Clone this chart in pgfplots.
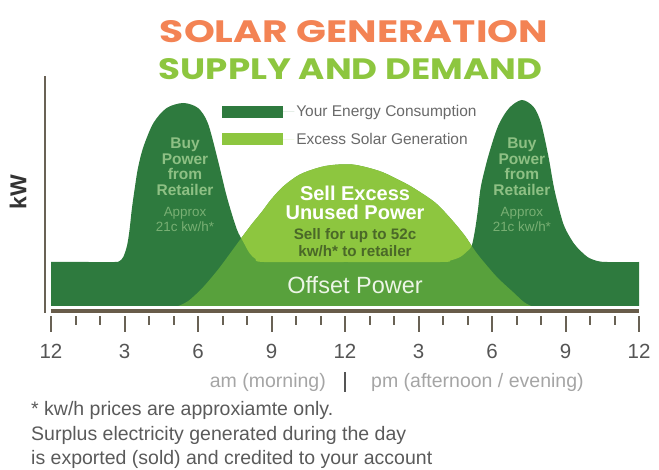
\documentclass[border=0pt]{standalone}
\usepackage{fontspec}
\setmainfont{Liberation Sans}
\newfontfamily\titlefont{Poppins}
\usepackage{graphicx}
\usepackage{pgfplots}
\usepgfplotslibrary{fillbetween}
\pgfplotsset{compat=1.18}

\definecolor{dkgreen}{RGB}{46,122,62}
\definecolor{ltgreen}{RGB}{141,198,63}
\definecolor{mdgreen}{RGB}{88,161,60}
\definecolor{brownbar}{RGB}{104,92,74}
\definecolor{ticktone}{RGB}{105,98,85}
\definecolor{titleorange}{RGB}{243,131,84}
\definecolor{titlegreen}{RGB}{141,198,63}
\definecolor{buytext}{RGB}{142,192,132}
\definecolor{approxtext}{RGB}{120,175,115}
\definecolor{selltext}{RGB}{74,104,40}
\definecolor{offsettext}{RGB}{236,245,230}
\definecolor{legendgray}{RGB}{105,105,105}
\definecolor{tickgray}{RGB}{85,85,85}
\definecolor{ampmgray}{RGB}{165,165,165}
\definecolor{notegray}{RGB}{90,90,90}

\begin{document}
\begin{tikzpicture}[x=1pt,y=1pt]
\path (0,0) rectangle (659,469);

% title
\node[inner sep=0pt, text=titleorange] at (354,437)
  {\resizebox{388pt}{22pt}{\titlefont\bfseries SOLAR GENERATION}};
\node[inner sep=0pt, text=titlegreen] at (350.5,399.5)
  {\resizebox{383pt}{21pt}{\titlefont\bfseries SUPPLY AND DEMAND}};

% kW label
\node[rotate=90, inner sep=0pt, text=black!80, font=\fontsize{23}{23}\selectfont\bfseries] at (18,277) {kW};

\begin{axis}[
  at={(51pt,153pt)}, anchor=south west,
  scale only axis, width=588pt, height=240pt,
  xmin=0, xmax=24, ymin=-10, ymax=230,
  clip=false,
  axis y line=none, axis x line=bottom,
  x axis line style={draw=none},
  xtick={0,3,...,24},
  xticklabels={12,3,6,9,12,3,6,9,12},
  minor x tick num=2,
  tick align=outside,
  major tick length=16pt, minor tick length=9pt,
  tick style={ticktone, line width=2pt},
  xticklabel style={font=\fontsize{20.5}{20.5}\selectfont, text=tickgray, yshift=-9pt},
  legend style={at={(axis cs:6.86,205)}, anchor=north west, draw=none, fill=none,
    font=\fontsize{15.5}{17}\selectfont, text=legendgray, row sep=11pt},
  legend cell align=left,
  legend image code/.code={\fill[#1] (0pt,-6pt) rectangle (61pt,6pt); \path (0pt,0pt) -- (72pt,0pt);},
]
% Your energy consumption (kW)
\addplot[draw=none, fill=dkgreen, smooth, tension=0.5, forget plot] coordinates {
(0,44) (1.5,44) (2.6,44) (2.8,45) (2.95,49) (3.1,60) (3.2,75) (3.3,97) (3.42,118) (3.55,138) (3.77,159) (4.18,183) (4.72,198) (5.4,203) (6.0,198) (6.4,183) (6.78,149) (7.18,109) (7.58,77) (7.85,64) (8.1,53) (8.35,47) (8.7,44) (12,44) (15.9,44) (16.3,45.5) (16.7,49) (17.0,55) (17.17,60) (17.3,75) (17.42,95) (17.55,120) (17.85,150) (18.25,180) (18.7,198) (19.22,206) (19.7,199) (20.0,183) (20.3,150) (20.55,116) (20.9,83) (21.2,68) (21.46,59) (21.9,49) (22.3,45) (22.7,44) (24,44)
} \closedcycle;
\addplot[draw=none, smooth, tension=0.5, name path=cons, forget plot] coordinates {
(0,44) (1.5,44) (2.6,44) (2.8,45) (2.95,49) (3.1,60) (3.2,75) (3.3,97) (3.42,118) (3.55,138) (3.77,159) (4.18,183) (4.72,198) (5.4,203) (6.0,198) (6.4,183) (6.78,149) (7.18,109) (7.58,77) (7.85,64) (8.1,53) (8.35,47) (8.7,44) (12,44) (15.9,44) (16.3,45.5) (16.7,49) (17.0,55) (17.17,60) (17.3,75) (17.42,95) (17.55,120) (17.85,150) (18.25,180) (18.7,198) (19.22,206) (19.7,199) (20.0,183) (20.3,150) (20.55,116) (20.9,83) (21.2,68) (21.46,59) (21.9,49) (22.3,45) (22.7,44) (24,44)
};
% Solar generation
\addplot[draw=none, fill=mdgreen, smooth, tension=0.5, forget plot] coordinates {
(5.2,0) (5.6,5) (6.1,16) (6.5,27) (6.9,39) (7.35,54) (7.8,69) (8.2,82) (8.6,94) (9.0,107) (9.5,120) (10.2,132) (11.2,140) (12.3,141.5) (13.4,135) (14.2,126) (14.8,118) (15.7,103) (16.4,85) (16.9,70) (17.2,59) (17.5,49) (18.2,29) (18.9,13) (19.3,4) (19.6,0)
} \closedcycle;
\addplot[draw=none, smooth, tension=0.5, name path=sol, forget plot] coordinates {
(5.2,0) (5.6,5) (6.1,16) (6.5,27) (6.9,39) (7.35,54) (7.8,69) (8.2,82) (8.6,94) (9.0,107) (9.5,120) (10.2,132) (11.2,140) (12.3,141.5) (13.4,135) (14.2,126) (14.8,118) (15.7,103) (16.4,85) (16.9,70) (17.2,59) (17.5,49) (18.2,29) (18.9,13) (19.3,4) (19.6,0)
};
% excess solar (solar above consumption)
\addplot[draw=none, fill=none, forget plot] fill between[of=cons and sol,
  soft clip={domain=5.25:19.55}, split, on layer=main,
  every segment no 1/.style={fill=ltgreen}];

\addlegendimage{fill=dkgreen, draw=none}
\addlegendentry{Your Energy Consumption}
\addlegendimage{fill=ltgreen, draw=none}
\addlegendentry{Excess Solar Generation}

% ground bar and vertical axis
\fill[brownbar] (axis cs:0,-3) rectangle (axis cs:24,-7.5);
\draw[ticktone, line width=2pt] (axis cs:-0.245,-7) -- (axis cs:-0.245,230);

% annotations
\node[align=center, text=buytext, font=\fontsize{15.5}{15.5}\selectfont\bfseries] at (axis cs:5.47,139.5) {Buy\\Power\\from\\Retailer};
\node[align=center, text=approxtext, font=\fontsize{13.4}{15}\selectfont] at (axis cs:5.47,86.5) {Approx\\21c kw/h*};
\node[align=center, text=buytext, font=\fontsize{15.5}{15.5}\selectfont\bfseries] at (axis cs:19.22,139.5) {Buy\\Power\\from\\Retailer};
\node[align=center, text=approxtext, font=\fontsize{13.4}{15}\selectfont] at (axis cs:19.22,86.5) {Approx\\21c kw/h*};
\node[align=center, text=white, font=\fontsize{20}{19}\selectfont\bfseries] at (axis cs:12.41,103.5) {Sell Excess\\Unused Power};
\node[align=center, text=selltext, font=\fontsize{15.2}{17}\selectfont\bfseries] at (axis cs:12.41,63.5) {Sell for up to 52c\\kw/h* to retailer};
\node[text=offsettext, font=\fontsize{23.5}{24}\selectfont] at (axis cs:12.41,21) {Offset Power};
\end{axis}

% am / pm
\node[anchor=east, inner sep=0pt, text=ampmgray, font=\fontsize{19.5}{19.5}\selectfont] at (326,87) {am (morning)};
\draw[tickgray, line width=2pt] (345,77) -- (345,97);
\node[anchor=west, inner sep=0pt, text=ampmgray, font=\fontsize{19.5}{19.5}\selectfont] at (371,87) {pm (afternoon / evening)};

% footnote
\node[anchor=base west, inner sep=0pt, text=notegray, font=\fontsize{19.5}{19.5}\selectfont] at (31,53) {* kw/h prices are approxiamte only.};
\node[anchor=base west, inner sep=0pt, text=notegray, font=\fontsize{19.5}{19.5}\selectfont] at (31,28.5) {Surplus electricity generated during the day};
\node[anchor=base west, inner sep=0pt, text=notegray, font=\fontsize{19.5}{19.5}\selectfont] at (31,5) {is exported (sold) and credited to your account};
\end{tikzpicture}
\end{document}
